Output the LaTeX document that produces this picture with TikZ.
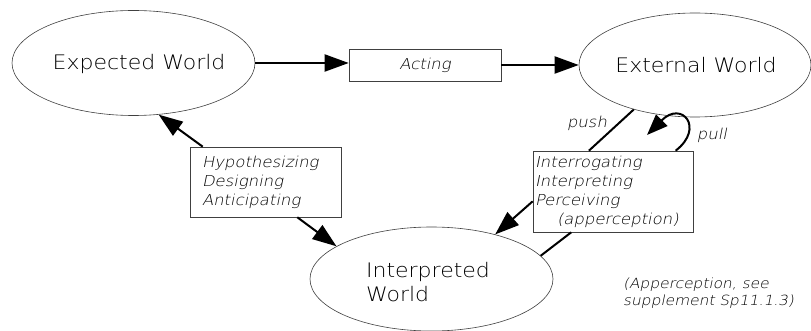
\documentclass[tikz,border=0pt]{standalone}
\usepackage{fontspec}
\newfontfamily\cad{DejaVu Sans ExtraLight}[FakeStretch=1.1]
\newfontfamily\cadit{DejaVu Sans ExtraLight}[FakeStretch=1.1,FakeSlant=0.2]
\usetikzlibrary{arrows.meta,calc,shapes.geometric}
\begin{document}
\begin{tikzpicture}[x=1pt,y=-1pt,
  world/.style={ellipse, draw=black!75, line width=0.6pt, inner sep=0pt},
  wtext/.style={inner sep=0pt, font=\cad\fontsize{20}{24}\selectfont, align=left},
  procbox/.style={rectangle, draw=black!75, line width=0.6pt, inner sep=0pt, align=left,
    font=\cadit\fontsize{15}{19}\selectfont},
  conn/.style={line width=2pt, -{Triangle[length=24pt,width=17pt]}},
  plainline/.style={line width=2pt},
  lbl/.style={inner sep=0pt, font=\cadit\fontsize{15}{19}\selectfont},
  note/.style={inner sep=0pt, align=left, font=\cadit\fontsize{14}{17}\selectfont}
]
\useasboundingbox (0,0) rectangle (811,331);

% worlds
\node[world, minimum width=243pt, minimum height=105pt] (exp) at (133.5,63) {};
\node[wtext] (expt) at (139,64) {Expected World};
\node[world, minimum width=232pt, minimum height=104pt] (ext) at (695,65) {};
\node[wtext] (extt) at (696,65) {External World};
\node[world, minimum width=243pt, minimum height=104pt] (int) at (431.5,279) {};
\node[wtext] (intt) at (428,282) {Interpreted\\World};

% process boxes
\node[procbox, minimum width=152pt, minimum height=32pt] (act) at (425,65) {Acting};
\node[procbox, minimum width=151pt, minimum height=70pt, text width=127pt] (hyp) at (265.5,182)
  {Hypothesizing\\Designing\\Anticipating};
\node[procbox, minimum width=160pt, minimum height=81pt, text width=156pt] (intr) at (613,191.5)
  {Interrogating\\Interpreting\\Perceiving\\\hspace*{22pt}(apperception)};

% connectors
\draw[conn] (exp.east) -- (exp.east -| act.west);
\draw[conn] (act.east) -- (ext.west);
\draw[conn] ($(hyp.north west)!0.086!(hyp.north east)$) -- (exp.-64);
\draw[conn] ($(hyp.south west)!0.71!(hyp.south east)$) -- (int.161);
\draw[conn] ($(intr.north west)!0.62!(intr.south west)$) -- (int.35);
\draw[plainline] ($(intr.south west)!0.24!(intr.south east)$) -- (int.12);
\draw[plainline] (ext.216) -- ($(intr.north west)!0.35!(intr.north east)$);
\coordinate (pullend) at (647,135);
\draw[line width=2pt, -{Triangle[length=21pt,width=16pt]}]
  ($(intr.north west)!0.89!(intr.north east)$) .. controls (705,128) and (682,100) .. (pullend);

% labels
\node[lbl] (push) at (587,123) {push};
\node[lbl] (pull) at (712,135) {pull};
\node[note, anchor=north west] (note) at (623,278) {(Apperception, see\\supplement Sp11.1.3)};
\end{tikzpicture}
\end{document}
